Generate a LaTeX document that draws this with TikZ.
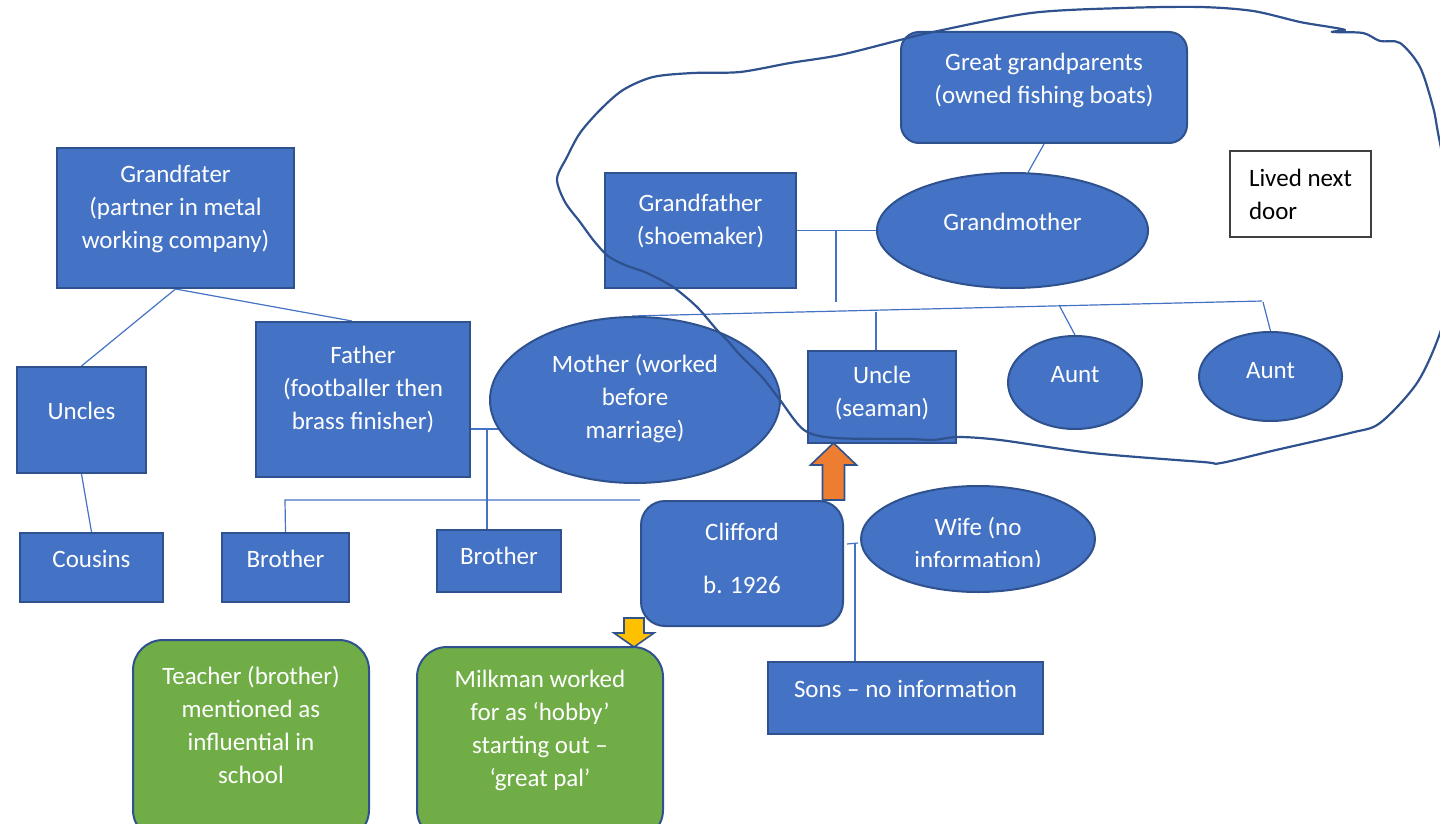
\documentclass[tikz,border=0pt]{standalone}
\usepackage{fontspec}
\setmainfont{Carlito}
\usepackage{tikz}
\usetikzlibrary{shapes.geometric,backgrounds}

\definecolor{boxblue}{HTML}{4472C4}
\definecolor{edgeblue}{HTML}{2F528F}
\definecolor{leafgreen}{HTML}{70AD47}
\definecolor{arroworange}{HTML}{ED7D31}
\definecolor{arrowyellow}{HTML}{FFC000}

\begin{document}
\begin{tikzpicture}[x=0.5pt,y=-0.5pt,
	every node/.style={font=\fontsize{12.5}{16.5}\selectfont},
	box/.style={draw=edgeblue,fill=boxblue,line width=1pt,inner sep=0pt},
	oval/.style={box,ellipse},
	leaf/.style={draw=edgeblue,fill=leafgreen,line width=1pt,inner sep=0pt,rounded corners=15pt},
	txt/.style={text=white,align=center},
	link/.style={boxblue,line width=0.6pt},
	blockarrow/.style={draw=edgeblue,line width=0.8pt,line join=miter}]
	\useasboundingbox (0,0) rectangle (1440,824);
	\clip (0,0) rectangle (1440,824);

	% father's side
	\node[box,minimum width=118.5pt,minimum height=70pt,label={[txt,yshift=4.5pt]center:{Grandfater\\(partner in metal\\working company)}}] (gf) at (175.5,218) {};
	\node[box,minimum width=64.5pt,minimum height=53pt,label={[txt,yshift=4.5pt]center:Uncles}] (uncles) at (81.5,420) {};
	\node[box,minimum width=71.5pt,minimum height=34.5pt,label={[txt,yshift=4.25pt]center:Cousins}] (cousins) at (91.5,567.5) {};
	\node[box,minimum width=107pt,minimum height=77.5pt,label={[txt,yshift=4.75pt]center:{Father\\(footballer then\\brass finisher)}}] (father) at (363,399.5) {};
	\node[box,minimum width=63.5pt,minimum height=34.5pt,label={[txt,yshift=4.25pt]center:Brother}] (bro1) at (285.5,567.5) {};
	\node[box,minimum width=62pt,minimum height=31pt,label={[txt,yshift=2.5pt]center:Brother}] (bro2) at (499,561) {};
	\node[oval,minimum width=145pt,minimum height=83pt,label={[txt,yshift=0.5pt]center:{Mother (worked\\before\\marriage)}}] (mother) at (635,400) {};

	% Clifford and his family
	\node[box,rounded corners=12pt,minimum width=101pt,minimum height=62.5pt,label={[txt,yshift=2.5pt]center:{Clifford\\[10pt]b. 1926}}] (cliff) at (742,563.5) {};
	\node[oval,minimum width=117pt,minimum height=53pt] (wife) at (978,539) {};
	\begin{scope}
		\clip (861,480) rectangle (1096,566);
		\node[txt] (wifetxt) at ([yshift=-3pt]wife.center) {Wife (no\\information)};
	\end{scope}
	\node[box,minimum width=137.5pt,minimum height=36pt,label={[txt,yshift=4.5pt]center:{Sons -- no information}}] (sons) at (905.5,698) {};
	\node[leaf,minimum width=118pt,minimum height=100pt,label={[txt,yshift=7.75pt]center:{Teacher (brother)\\mentioned as\\influential in\\school}}] (teacher) at (251,740) {};
	\node[leaf,minimum width=123pt,minimum height=96.5pt,label={[txt,yshift=6.5pt]center:{Milkman worked\\for as ‘hobby’\\starting out --\\‘great pal’}}] (milk) at (540,743.5) {};

	% mother's side
	\node[box,rounded corners=9pt,minimum width=143pt,minimum height=55.5pt,label={[txt,yshift=3.75pt]center:{Great grandparents\\(owned fishing boats)}}] (gg) at (1044,87.5) {};
	\node[box,minimum width=95.5pt,minimum height=57.5pt,label={[txt,yshift=4.75pt]center:{Grandfather\\(shoemaker)}}] (gfs) at (700.5,230.5) {};
	\node[oval,minimum width=135.5pt,minimum height=57.5pt,label={[txt,yshift=4.5pt]center:Grandmother}] (gm) at (1012.5,230.5) {};
	\node[draw=black!75,fill=white,line width=0.6pt,align=left,inner sep=0pt,minimum width=70.5pt,minimum height=43pt] (next) at (1300.5,194) {Lived next\\door};
	\node[box,minimum width=74pt,minimum height=46pt,label={[txt,yshift=1.75pt]center:{Uncle\\(seaman)}}] (us) at (882,397) {};
	\node[oval,minimum width=67pt,minimum height=46.5pt,label={[txt,yshift=3.75pt]center:Aunt}] (aunt1) at (1075,382.5) {};
	\node[oval,minimum width=71.5pt,minimum height=44.5pt,label={[txt,yshift=2.75pt]center:Aunt}] (aunt2) at (1270.5,376.5) {};

	\begin{pgfonlayer}{background}
		\draw[link] (gf.south) -- (uncles.north);
		\draw[link] (gf.south) -- ([xshift=-5.5pt]father.north);
		\draw[link] (uncles.south) -- (cousins.north);
		\coordinate (fm) at (487,429);
		\draw[link] (father.east |- fm) -- (mother.center |- fm);
		\draw[link] (fm) -- (fm |- bro2.north);
		\coordinate (sib) at (285,500);
		\draw[link] (bro1.north) -- (sib) -- (cliff.north west);
		\draw[link] (gfs.east) -- (gm.center);
		\coordinate (gp) at (836,230);
		\coordinate (gpend) at (836,302);
		\draw[link] (gp) -- (gpend);
		\coordinate (kl) at (632,316);
		\coordinate (kr) at (1262,301);
		\draw[link] (kl) -- (kr);
		\coordinate (ku) at (876,312);
		\draw[link] (ku) -- (ku |- us.north);
		\coordinate (ka1) at (1059,305);
		\draw[link] (ka1) -- (aunt1.north);
		\coordinate (ka2) at (1263,302);
		\draw[link] (ka2) -- (aunt2.north);
		\draw[link] (gg.south) -- (gm.75);
		\coordinate (cw1) at (847,544);
		\coordinate (cw2) at (858,543);
		\draw[link] (cw1) -- (cw2);
		\coordinate (cw) at (855,544);
		\draw[link] (cw) -- (cw |- sons.north);
	\end{pgfonlayer}

	\filldraw[blockarrow,fill=arroworange] (cliff.north) ++(80.5,0) -- ++(0,-35) -- ++(-12,0) -- ++(23,-22) -- ++(23,22) -- ++(-12,0) -- ++(0,35) -- cycle;
	\filldraw[blockarrow,fill=arrowyellow] (cliff.south) ++(-118,-9) -- ++(0,15) -- ++(-10,0) -- ++(20,14) -- ++(20,-14) -- ++(-10,0) -- ++(0,-15) -- cycle;

	% hand drawn ring round the neighbours
	\draw[edgeblue,line width=1.1pt,line join=round] plot[smooth cycle,tension=0.5] coordinates {
		(557,179) (567,157) (580,133) (600,110) (623,90) (653,77) (693,73) (740,72) (790,63) (840,55)
		(900,40) (933,32) (1031,13) (1123,8) (1200,7) (1253,11) (1300,22) (1330,27) (1345,30) (1332,32)
		(1363,33) (1380,41) (1400,43) (1420,67) (1433,107) (1438,133) (1450,200) (1452,280) (1440,333)
		(1417,383) (1380,423) (1350,433) (1276,450) (1221,463) (1203,462) (1092,453) (1000,440) (958,437)
		(933,440) (909,439) (835,438) (804,430) (780,400) (762,377) (740,355) (727,340) (717,330)
		(697,307) (673,287) (647,273) (625,265) (608,256) (594,241) (580,222) (565,202)};
\end{tikzpicture}
\end{document}
